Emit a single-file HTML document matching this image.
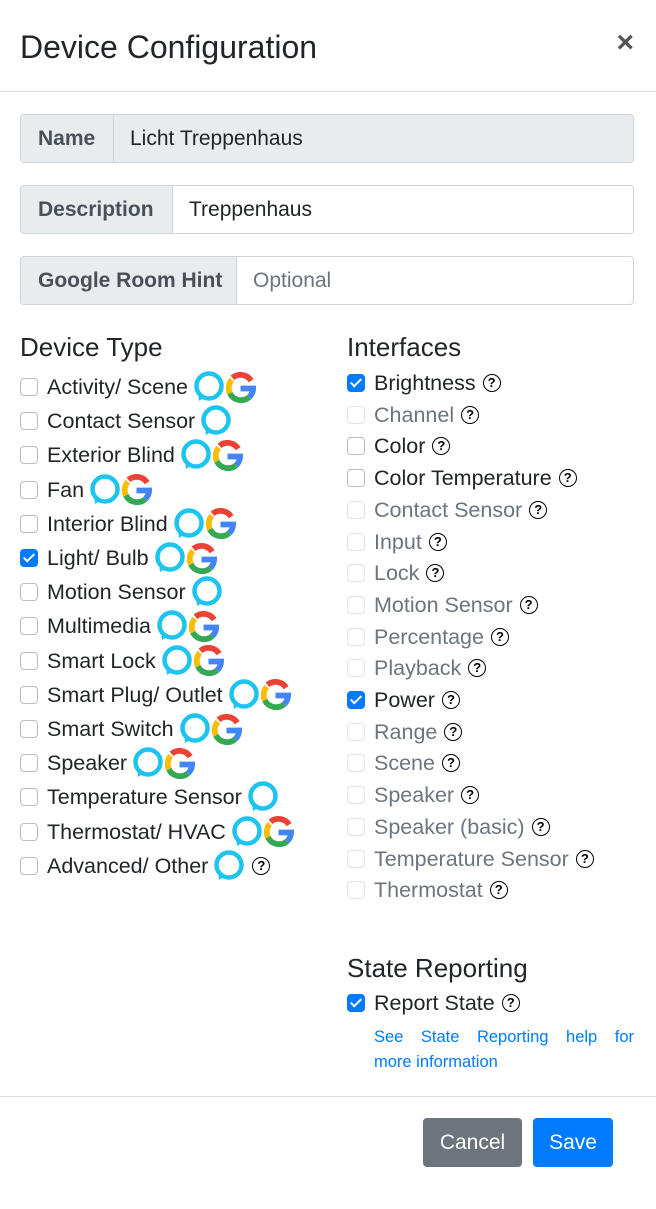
<!DOCTYPE html>
<html><head><meta charset="utf-8"><style>
body{margin:0;width:656px;height:1209px;background:#fff;font-family:"Liberation Sans",sans-serif;color:#212529;position:relative;overflow:hidden}
.a{position:absolute}
.title{left:20px;top:28px;font-size:32px;line-height:38px}
.close{right:22px;top:26px;font-size:30px;color:#555;font-weight:bold}
.hr{left:0;width:656px;height:1px;background:#dee2e6}
.grp{left:20px;width:614px;height:49px;border:1px solid #ced4da;border-radius:4px;box-sizing:border-box;overflow:hidden;display:flex;font-size:21px}
.grp .l{background:#e9ecef;border-right:1px solid #ced4da;font-weight:bold;color:#495057;display:flex;align-items:center;padding-left:17px;box-sizing:border-box;white-space:nowrap}
.grp .v{display:flex;align-items:center;padding-left:16px}
.h{font-size:26px;line-height:30px}
.it{font-size:21.5px;line-height:24px;white-space:nowrap;display:flex;align-items:center}
.cb{width:18px;height:18px;border:1px solid #bbb;border-radius:4px;box-sizing:border-box;margin-right:9px;background:#fff;flex:none}
.cb.on{background:#007bff;border-color:#007bff;position:relative}
.cb.on:after{content:"";position:absolute;left:5px;top:1px;width:4px;height:9px;border:solid #fff;border-width:0 2px 2px 0;transform:rotate(45deg)}
.dis{color:#6c757d}.dis .cb{border-color:#e3e3e3}
.q{display:inline-block;width:16px;height:16px;border:1.8px solid #000;border-radius:50%;font-size:13px;line-height:16px;text-align:center;font-weight:bold;margin-left:7px;box-sizing:content-box;color:#000}
svg{flex:none}
.btn{top:1118px;height:49px;border-radius:4px;color:#fff;font-size:21px;display:flex;align-items:center;justify-content:center}
.lk{left:374px;width:260px;font-size:16.5px;line-height:25px;color:#007bff}
</style></head><body>
<div class="a title">Device Configuration</div>
<div class="a close">×</div>
<div class="a hr" style="top:91px"></div>
<div class="a grp" style="top:114px;background:#e9ecef"><div class="l" style="width:93px">Name</div><div class="v">Licht Treppenhaus</div></div>
<div class="a grp" style="top:185px"><div class="l" style="width:152px">Description</div><div class="v">Treppenhaus</div></div>
<div class="a grp" style="top:256px"><div class="l" style="width:216px">Google Room Hint</div><div class="v" style="color:#6c757d">Optional</div></div>
<div class="a h" style="left:20px;top:332px">Device Type</div>
<div class="a h" style="left:347px;top:332px">Interfaces</div>
<div class="a h" style="left:347px;top:953px">State Reporting</div>
<svg width="0" height="0" style="position:absolute"><defs>
<symbol id="al" viewBox="0 0 32 32"><circle cx="16" cy="15" r="12.5" fill="none" stroke="#1cc4ef" stroke-width="4.5"/><path d="M5 21 L6 30 L12 26 Z" fill="#1cc4ef"/></symbol>
<symbol id="g" viewBox="0 0 32 32"><path d="M27 9 A13 13 0 1 0 29 17" fill="none" stroke="#ea4335" stroke-width="6" stroke-dasharray="22 100"/><path d="M7 8 A13 13 0 0 0 5 22" fill="none" stroke="#fbbc05" stroke-width="6"/><path d="M5 22 A13 13 0 0 0 25 26" fill="none" stroke="#34a853" stroke-width="6"/><path d="M25 26 A13 13 0 0 0 29 17 L16 17" fill="none" stroke="#4285f4" stroke-width="6"/></symbol>
</defs></svg>
<div id="L"></div>
<div class="a lk" style="top:1025px;text-align:justify;text-align-last:justify">See State Reporting help for</div>
<div class="a lk" style="top:1050px">more information</div>
<div class="a hr" style="top:1096px"></div>
<div class="a btn" style="left:423px;width:99px;background:#6c757d">Cancel</div>
<div class="a btn" style="left:533px;width:80px;background:#007bff">Save</div>
<script>
var L=[["Activity/ Scene",2],["Contact Sensor",1],["Exterior Blind",2],["Fan",2],["Interior Blind",2],["Light/ Bulb",2,1],["Motion Sensor",1],["Multimedia",2],["Smart Lock",2],["Smart Plug/ Outlet",2],["Smart Switch",2],["Speaker",2],["Temperature Sensor",1],["Thermostat/ HVAC",2],["Advanced/ Other",3]];
var h="";
L.forEach(function(e,i){var y=371+i*34.2;var ic='<svg width="32" height="32" style="margin-left:5px"><use href="#al"/></svg>';if(e[1]==2)ic+='<svg width="31" height="31"><use href="#g"/></svg>';if(e[1]==3)ic+='<span class="q">?</span>';h+='<div class="a it" style="left:20px;top:'+y+'px"><span class="cb'+(e[2]?' on':'')+'"></span>'+e[0]+ic+'</div>';});
var R=[["Brightness",1],["Channel",0],["Color",2],["Color Temperature",2],["Contact Sensor",0],["Input",0],["Lock",0],["Motion Sensor",0],["Percentage",0],["Playback",0],["Power",1],["Range",0],["Scene",0],["Speaker",0],["Speaker (basic)",0],["Temperature Sensor",0],["Thermostat",0]];
R.forEach(function(e,i){var y=371+i*31.7;h+='<div class="a it'+(e[1]==0?' dis':'')+'" style="left:347px;top:'+y+'px"><span class="cb'+(e[1]==1?' on':'')+'"></span>'+e[0]+'<span class="q">?</span></div>';});
h+='<div class="a it" style="left:347px;top:991px"><span class="cb on"></span>Report State<span class="q">?</span></div>';
document.getElementById("L").innerHTML=h;
</script>
</body></html>
